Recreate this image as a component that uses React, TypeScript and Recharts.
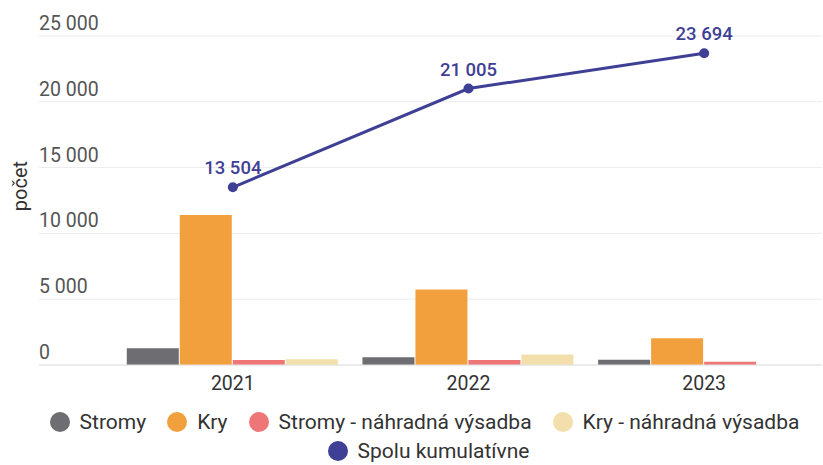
import React from "react";
import {
  ComposedChart,
  Bar,
  Line,
  XAxis,
  YAxis,
  CartesianGrid,
  LabelList,
} from "recharts";

const years = ["2021", "2022", "2023"];
const stromy = [1280, 590, 400];
const kry = [11400, 5740, 2040];
const stromyNahradna = [380, 380, 249];
const kryNahradna = [444, 791, 0];
const spoluKumulativne = [13504, 21005, 23694];
const yTicks = [0, 5000, 10000, 15000, 20000, 25000];

const COLORS = {
  stromy: "#6d6d72",
  kry: "#f2a03d",
  stromyNahradna: "#ee7677",
  kryNahradna: "#f3dfab",
  spolu: "#3f3f95",
};

const FONT = "Roboto, 'Noto Sans', sans-serif";

const fmt = (v: number) => String(v).replace(/\B(?=(\d{3})+(?!\d))/g, " ");

const data = years.map((year, i) => ({
  year,
  stromy: stromy[i],
  kry: kry[i],
  stromyNahradna: stromyNahradna[i],
  kryNahradna: kryNahradna[i],
  spolu: spoluKumulativne[i],
}));

const legendRows = [
  [
    { label: "Stromy", color: COLORS.stromy },
    { label: "Kry", color: COLORS.kry },
    { label: "Stromy - náhradná výsadba", color: COLORS.stromyNahradna },
    { label: "Kry - náhradná výsadba", color: COLORS.kryNahradna },
  ],
  [{ label: "Spolu kumulatívne", color: COLORS.spolu }],
];

const YTick = (props: any) => {
  const { x, y, payload } = props;
  return (
    <text x={x} y={y - 6} textAnchor="start" fill="#555" fontSize={19.5} fontFamily={FONT}>
      {fmt(payload.value)}
    </text>
  );
};

export default function App() {
  return (
    <div style={{ position: "relative", width: 823, height: 465, fontFamily: FONT }}>
      <style>{"body{margin:0}"}</style>
      <ComposedChart
        width={823}
        height={465}
        data={data}
        margin={{ top: 36, right: 1, left: 39, bottom: 70 }}
        barCategoryGap="5%"
        barGap={1}
      >
        <CartesianGrid horizontal vertical={false} stroke="#ececec" />
        <XAxis
          dataKey="year"
          padding={{ left: 76, right: 0 }}
          height={30}
          tickLine={false}
          axisLine={{ stroke: "#e2e2e2" }}
          tick={{ fill: "#333", fontSize: 19.5, fontFamily: FONT }}
          tickMargin={5}
        />
        <YAxis
          width={1}
          mirror
          domain={[0, 25000]}
          ticks={yTicks}
          interval={0}
          tickLine={false}
          axisLine={false}
          tickSize={0}
          tickMargin={0}
          tick={(p: any) => <YTick {...p} />}
        />
        <Bar dataKey="stromy" fill={COLORS.stromy} isAnimationActive={false} />
        <Bar dataKey="kry" fill={COLORS.kry} isAnimationActive={false} />
        <Bar dataKey="stromyNahradna" fill={COLORS.stromyNahradna} isAnimationActive={false} />
        <Bar dataKey="kryNahradna" fill={COLORS.kryNahradna} isAnimationActive={false} />
        <Line
          dataKey="spolu"
          stroke={COLORS.spolu}
          strokeWidth={3}
          dot={{ r: 5, fill: COLORS.spolu, stroke: COLORS.spolu, strokeWidth: 0 }}
          isAnimationActive={false}
        >
          <LabelList
            dataKey="spolu"
            position="top"
            offset={13}
            formatter={(v: any) => fmt(Number(v))}
            fill={COLORS.spolu}
            fontSize={18.5}
            fontWeight={500}
            fontFamily={FONT}
          />
        </Line>
      </ComposedChart>
      <div
        style={{
          position: "absolute",
          left: 20,
          top: 186,
          transform: "translate(-50%, -50%) rotate(-90deg)",
          fontSize: 20,
          lineHeight: "20px",
          color: "#333",
          whiteSpace: "nowrap",
        }}
      >
        počet
      </div>
      <div style={{ position: "absolute", left: 0, top: 406, width: 823 }}>
        {legendRows.map((row, ri) => (
          <div
            key={ri}
            style={{
              display: "flex",
              justifyContent: "center",
              gap: 21,
              height: ri === 0 ? 31 : 28,
              alignItems: "center",
              paddingLeft: ri === 0 ? 26 : 34,
            }}
          >
            {row.map((item) => (
              <div key={item.label} style={{ display: "flex", alignItems: "center", gap: 10 }}>
                <span
                  style={{
                    width: 20,
                    height: 20,
                    borderRadius: "50%",
                    background: item.color,
                    display: "inline-block",
                  }}
                />
                <span style={{ fontSize: 21, lineHeight: "22px", color: "#333" }}>{item.label}</span>
              </div>
            ))}
          </div>
        ))}
      </div>
    </div>
  );
}
